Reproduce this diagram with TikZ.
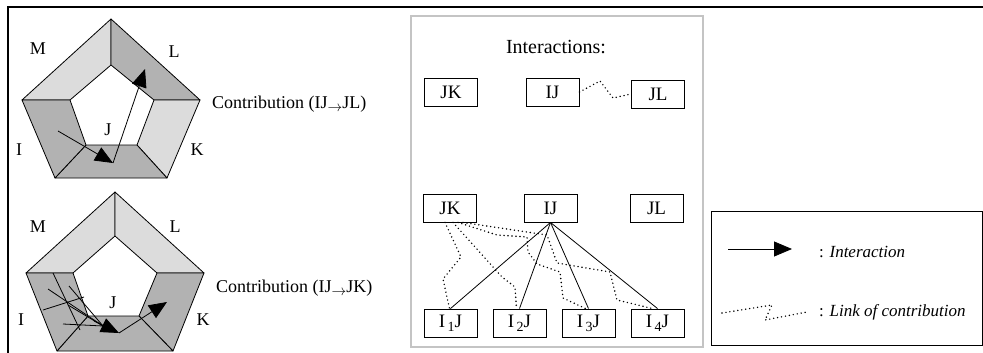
\documentclass[tikz,border=0pt]{standalone}
\usepackage{fontspec}
\usepackage{graphicx}
\setmainfont{Liberation Serif}
\usetikzlibrary{arrows.meta}
\newcommand\myarr{\raisebox{-0.35ex}{\scalebox{0.85}{$\rightarrow$}}}
\newcommand\sub[1]{\raisebox{-0.45ex}{\fontsize{14}{14}\selectfont\,#1}}
\definecolor{lightg}{HTML}{DCDCDC}
\definecolor{darkg}{HTML}{B2B2B2}
\definecolor{frameg}{HTML}{C4C4C4}
\begin{document}
\begin{tikzpicture}[x=1pt,y=-1pt,
  lbl/.style={inner sep=0pt,font=\fontsize{18}{20}\selectfont},
  box/.style={draw,line width=0.9pt,minimum width=53pt,minimum height=28pt,inner sep=0pt,font=\fontsize{19}{21}\selectfont},
  edge/.style={line width=0.8pt},
  bigarrow/.style={-{Triangle[length=18pt,width=15pt]},line width=0.8pt},
  contrib/.style={line width=1.6pt,line cap=round,dash pattern=on 0pt off 4pt},
  lightface/.style={fill=lightg,draw=black,line width=0.8pt,line join=round},
  darkface/.style={fill=darkg,draw=black,line width=0.8pt,line join=round}]
\useasboundingbox (0,0) rectangle (983,353);
% frame
\draw[line width=2pt] (7,7.5) -- (983,7.5);
\draw[line width=2pt] (8,6.5) -- (8,353);

% ---------- pentagon 1 ----------
\coordinate (ao1) at (111,19);  \coordinate (ao2) at (200,100);
\coordinate (ao3) at (167,178); \coordinate (ao4) at (55,178);
\coordinate (ao5) at (22,100);
\coordinate (ai1) at (111,65);  \coordinate (ai2) at (154,100);
\coordinate (ai3) at (137,145); \coordinate (ai4) at (86,145);
\coordinate (ai5) at (70,100);
\draw[lightface] (ao5) -- (ao1) -- (ai1) -- (ai5) -- cycle;
\draw[darkface]  (ao1) -- (ao2) -- (ai2) -- (ai1) -- cycle;
\draw[lightface] (ao2) -- (ao3) -- (ai3) -- (ai2) -- cycle;
\draw[darkface]  (ao3) -- (ao4) -- (ai4) -- (ai3) -- cycle;
\draw[darkface]  (ao4) -- (ao5) -- (ai5) -- (ai4) -- cycle;
\coordinate (aa1) at (58,131); \coordinate (aa2) at (113,163);
\coordinate (aa3) at (145,69);
\draw[bigarrow] (aa1) -- (aa2);
\draw[bigarrow] (aa2) -- (aa3);
\node[lbl] (aM) at (38,49) {M};
\node[lbl] (aL) at (174,52) {L};
\node[lbl] (aI) at (19,150) {I};
\node[lbl] (aK) at (197,150) {K};
\node[lbl] (aJ) at (108,130) {J};
\node[lbl,anchor=west] (ac) at (212,104) {Contribution (IJ\myarr JL)};

% ---------- pentagon 2 ----------
\coordinate (bo1) at (115,192); \coordinate (bo2) at (204,273);
\coordinate (bo3) at (173,351); \coordinate (bo4) at (57,351);
\coordinate (bo5) at (26,273);
\coordinate (bi1) at (115,236); \coordinate (bi2) at (157,273);
\coordinate (bi3) at (139,316); \coordinate (bi4) at (88,316);
\coordinate (bi5) at (73,273);
\draw[lightface] (bo5) -- (bo1) -- (bi1) -- (bi5) -- cycle;
\draw[lightface] (bo1) -- (bo2) -- (bi2) -- (bi1) -- cycle;
\draw[darkface]  (bo2) -- (bo3) -- (bi3) -- (bi2) -- cycle;
\draw[darkface]  (bo3) -- (bo4) -- (bi4) -- (bi3) -- cycle;
\draw[darkface]  (bo4) -- (bo5) -- (bi5) -- (bi4) -- cycle;
\coordinate (bl1) at (53,273); \coordinate (bl2) at (80,330);
\coordinate (bl3) at (43,310); \coordinate (bl4) at (84,297);
\draw[edge] (bl1) -- (bl2);
\draw[edge] (bl3) -- (bl4);
\coordinate (bs1) at (48,289); \coordinate (bs2) at (69,286);
\coordinate (bs3) at (68,305); \coordinate (bs4) at (63,324);
\coordinate (bm) at (103,326); \coordinate (bt) at (119,333);
\coordinate (be) at (167,302);
\foreach \s in {bs1,bs2,bs3,bs4} \draw[edge] (\s) -- (bm);
\draw[bigarrow] (94,321) -- (bt);
\draw[bigarrow] (bt) -- (be);
\node[lbl] (bM) at (38,227) {M};
\node[lbl] (bL) at (175,227) {L};
\node[lbl] (bI) at (21,320) {I};
\node[lbl] (bK) at (203,320) {K};
\node[lbl] (bJ) at (113,303) {J};
\node[lbl,anchor=west] (bc) at (216,288) {Contribution (IJ\myarr JK)};

% ---------- interactions panel ----------
\draw[frameg,line width=1.5pt] (411,16) rectangle (703,347);
\node[inner sep=0pt,font=\fontsize{20}{22}\selectfont] (title) at (556,47) {Interactions:};
\node[box] (JKa) at (451,92) {JK};
\node[box] (IJa) at (552.5,92) {IJ};
\node[box] (JLa) at (658,94) {JL};
\draw[contrib] (IJa.east) -- (600,81) -- (613,98) -- (JLa.west);

\node[box] (JKb) at (450,208) {JK};
\node[box] (IJb) at (550.5,208) {IJ};
\node[box] (JLb) at (656.5,208) {JL};
\node[box] (I1J) at (450.5,323) {I\sub{1}J};
\node[box] (I2J) at (519.5,323) {I\sub{2}J};
\node[box] (I3J) at (588.5,323) {I\sub{3}J};
\node[box] (I4J) at (657.5,323) {I\sub{4}J};
\foreach \t in {I1J,I2J,I3J,I4J} \draw[edge] (IJb.south) -- (\t.north);
\draw[contrib] ([xshift=-5pt]JKb.south) -- (461,257) -- (443,279) -- ([xshift=-1pt]I1J.north);
\draw[contrib] ([xshift=3pt]JKb.south) -- (502,277) -- (515,287) -- ([xshift=-3pt]I2J.north);
\draw[contrib] ([xshift=8pt]JKb.south) -- (497,235) -- (527,237) -- (528,252) -- (537,264) -- (560,272) -- (563,298) -- ([xshift=-3pt]I3J.north);
\draw[contrib] ([xshift=13pt]JKb.south) -- (547,235) -- (557,263) -- (610,272) -- (617,300) -- ([xshift=-5pt]I4J.north);

% ---------- legend ----------
\draw[line width=1pt] (711,211) rectangle (982,345);
\coordinate (la) at (728,249); \coordinate (lb) at (792,249);
\draw[bigarrow] (la) -- (lb);
\node[anchor=west,inner sep=0pt,font=\fontsize{17}{19}\selectfont] (li) at (819,252) {: \textit{Interaction}};
\coordinate (lc1) at (722,313); \coordinate (lc2) at (772,305);
\coordinate (lc3) at (765,320); \coordinate (lc4) at (807,312);
\draw[contrib] (lc1) -- (lc2) -- (lc3) -- (lc4);
\node[anchor=west,inner sep=0pt,font=\fontsize{17}{19}\selectfont] (ll) at (819,312) {: \textit{Link of contribution}};
\end{tikzpicture}
\end{document}
